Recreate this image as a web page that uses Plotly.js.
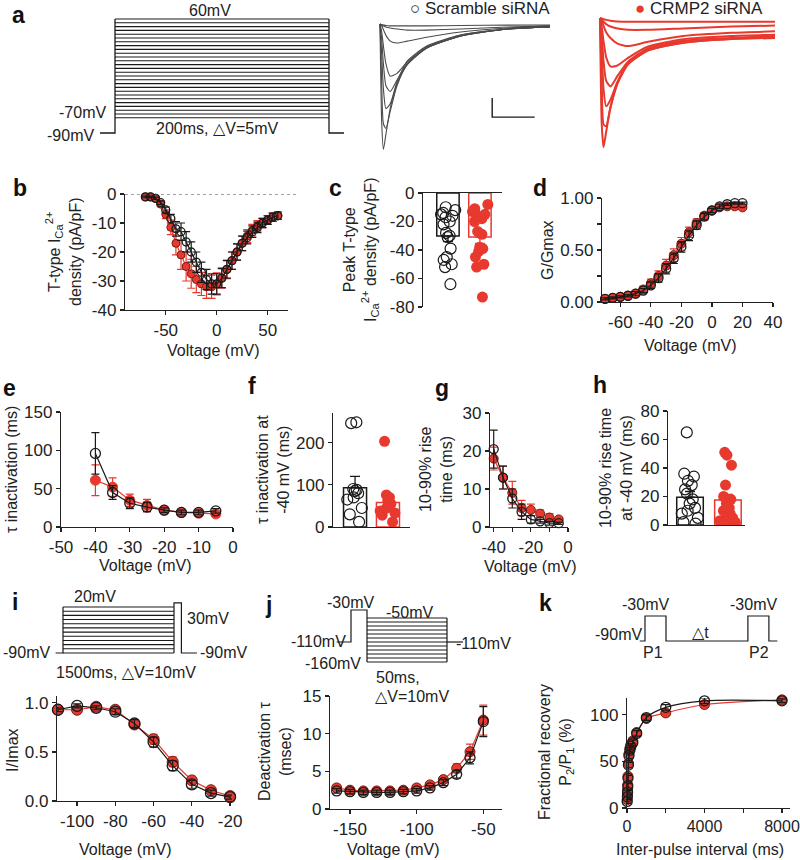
<!DOCTYPE html>
<html><head><meta charset="utf-8">
<script src="https://cdn.plot.ly/plotly-3.0.1.min.js"></script>
<style>html,body{margin:0;padding:0;background:#fff}#chart{width:800px;height:860px}</style>
</head><body><div id="chart"></div>
<script>
// ---------------- DATA ----------------
// a: voltage protocol (mV) and example current traces (pA) at sample times (ms)
const aHold = -90, aStepMs = 200, aTailMs = 14;
const aSteps = [-70,-65,-60,-55,-50,-45,-40,-35,-30,-25,-20,-15,-10,-5,0,5,10,15,20,25,30,35,40,45,50,55,60];
const traceT = [0, 2, 4, 7, 12, 20, 32, 55, 95, 150, 200];
const scrTraces = [
  [0,-520,-660,-580,-445,-305,-195,-116,-58,-26,-15],
  [0,-315,-525,-550,-460,-325,-210,-126,-63,-26,-15],
  [0,-160,-340,-445,-420,-315,-215,-126,-63,-26,-15],
  [0,-80,-210,-325,-355,-295,-210,-126,-63,-26,-15],
  [0,-42,-115,-210,-275,-260,-200,-120,-58,-26,-15],
  [0,-10,-30,-60,-90,-100,-90,-70,-42,-21,-10],
  [0,-5,-10,-16,-21,-26,-32,-32,-26,-16,-10],
  [0,-3,-5,-8,-10,-10,-10,-10,-8,-6,-5]
];
const crmpTraces = [
  [0,-560,-680,-600,-470,-340,-240,-170,-130,-110,-105],
  [0,-330,-560,-570,-470,-345,-245,-170,-130,-110,-105],
  [0,-170,-370,-465,-430,-335,-240,-165,-125,-108,-100],
  [0,-85,-225,-330,-360,-305,-230,-160,-120,-105,-95],
  [0,-45,-120,-205,-255,-250,-210,-150,-112,-95,-88],
  [0,-15,-40,-75,-105,-135,-148,-125,-95,-78,-70],
  [0,-8,-20,-32,-45,-55,-62,-62,-55,-45,-40],
  [0,-3,-6,-10,-14,-18,-20,-20,-20,-20,-20]
];
const scaleBarMs = 50, scaleBarPA = 100;

// b: I-V
const bV = [-70,-65,-60,-55,-50,-45,-40,-35,-30,-25,-20,-15,-10,-5,0,5,10,15,20,25,30,35,40,45,50,55,60];
const bScr = [-1,-1,-1.5,-3,-5.5,-8.5,-12,-13,-16.5,-20,-23.5,-27,-29.5,-31,-31,-29,-26,-23,-20,-17,-15,-13,-11.5,-10,-9,-8,-7.5];
const bScrErr = [0.3,0.3,0.4,0.6,1,1.5,2.5,3,3.5,3.5,3.5,3.5,3.5,3.5,3.5,3.3,3,3,2.8,2.5,2.2,2,1.8,1.6,1.5,1.4,1.3];
const bRed = [-1,-1,-1.5,-3.5,-7,-11.5,-17,-21,-25,-27.5,-29.5,-31,-32,-32,-31,-29,-26,-23,-20,-17,-14.5,-12.5,-11,-10,-9,-8,-7.5];
const bRedErr = [0.3,0.3,0.5,0.8,1.5,2.5,4,5,5,5,4.5,4,4,4,3.8,3.5,3.2,3,2.8,2.5,2.2,2,1.8,1.6,1.5,1.4,1.3];

// c: peak density per cell
const cScr = [-10,-12,-14,-15,-16,-17,-20,-22,-28,-30,-31,-39,-45,-47,-50,-52,-64];
const cRed = [-8,-11,-13,-15,-16,-18,-20,-27,-29,-38,-39,-41,-45,-50,-52,-73];
const cMean = [-30.1, -30.9], cSem = [4, 4.5];

// d: activation
const dV = [-70,-65,-60,-55,-50,-45,-40,-35,-30,-25,-20,-15,-10,-5,0,5,10,15,20];
const dScr = [0.03,0.04,0.05,0.06,0.08,0.11,0.16,0.23,0.32,0.42,0.53,0.64,0.74,0.82,0.88,0.92,0.94,0.95,0.95];
const dScrErr = [0.01,0.01,0.01,0.01,0.02,0.02,0.03,0.04,0.05,0.05,0.05,0.05,0.04,0.03,0.02,0.02,0.01,0.01,0.01];
const dRed = [0.03,0.04,0.05,0.06,0.08,0.12,0.18,0.25,0.35,0.45,0.56,0.67,0.76,0.83,0.88,0.91,0.92,0.92,0.91];
const dRedErr = [0.01,0.01,0.01,0.01,0.02,0.03,0.04,0.05,0.06,0.06,0.06,0.05,0.04,0.03,0.02,0.02,0.01,0.01,0.01];

// e: tau inactivation
const eV = [-40,-35,-30,-25,-20,-15,-10,-5];
const eScr = [96,45,31,26,22,19,19,21];
const eScrErr = [27,9,7,6,3,3,3,3];
const eRed = [61,52,35,28,22,19,18,17];
const eRedErr = [20,12,8,8,4,3,3,3];

// f: tau inactivation at -40 mV
const fScr = [248,246,90,88,85,80,70,65,45,30,12];
const fRed = [203,76,70,62,55,45,38,33,28,12];
const fMean = [93, 58], fSem = [27, 16];

// g: rise time
const gV = [-40,-35,-30,-25,-20,-15,-10,-5];
const gScr = [20.5,13,7.5,4,2,1.5,1,1];
const gScrErr = [5,3,2.5,2,1,0.5,0.5,0.3];
const gRed = [18,13,9,5,4.5,3.5,2.5,2];
const gRedErr = [3,3,3,2,1.5,1,1,0.5];

// h: rise time at -40 mV
const hScr = [65,36,34,31,28,25,22,18,15,12,10,8,5,2,1];
const hRed = [51,49,42,28,20,18,15,12,10,9,8,7,5,4,3,2,1,1];
const hMean = [19.5, 17.5], hSem = [4, 4];

// i: steady-state inactivation
const iHold = -90, iCondMs = 1500, iTestMv = 30, iTestMs = 100;
const iSteps = [-90,-80,-70,-60,-50,-40,-30,-20,-10,0,10,20];
const iV = [-110,-100,-90,-80,-70,-60,-50,-40,-30,-20];
const iScr = [0.93,0.97,0.95,0.91,0.79,0.60,0.36,0.17,0.08,0.04];
const iScrErr = [0.02,0.02,0.02,0.03,0.04,0.05,0.05,0.04,0.03,0.02];
const iRed = [0.93,0.93,0.96,0.93,0.78,0.63,0.40,0.21,0.11,0.05];
const iRedErr = [0.02,0.02,0.02,0.03,0.04,0.05,0.05,0.04,0.03,0.02];

// j: deactivation
const jHold = -110, jPre = -30, jPreMs = 10, jStepMs = 50;
const jSteps = [-160,-150,-140,-130,-120,-110,-100,-90,-80,-70,-60,-50];
const jV = [-160,-150,-140,-130,-120,-110,-100,-90,-80,-70,-60,-50];
const jScr = [2.4,2.3,2.2,2.2,2.2,2.3,2.4,2.8,3.5,4.6,6.8,11.6];
const jScrErr = [0.3,0.3,0.3,0.3,0.3,0.3,0.3,0.3,0.4,0.5,0.8,2];
const jRed = [2.8,2.5,2.4,2.4,2.4,2.5,2.8,3.2,3.9,5.4,7.6,11.8];
const jRedErr = [0.3,0.3,0.3,0.3,0.3,0.3,0.3,0.3,0.4,0.6,1,2];

// k: recovery from inactivation
const kHold = -90, kPulse = -30, kPulseMs = 100, kGapMs = 390;
const kT = [10,20,30,40,50,75,100,150,200,300,500,1000,2000,4000,8000];
const kScr = [7,12,17,23,32,46,56,62,66,70,80,97,108,115,115];
const kScrErr = [2,2,2,3,3,3,3,3,3,3,3,3,3,3,2];
const kRed = [9,14,19,25,34,48,58,64,68,72,81,96,102,111,116];
const kRedErr = [3,3,3,3,3,3,3,3,3,3,3,3,3,3,2];

// ---------------- STYLE / HELPERS ----------------
const F = 'Liberation Sans, Arial, DejaVu Sans, sans-serif';
const RED = '#E8392E', REDDK = '#7a1d17', BLK = '#1a1a1a', GRY = '#4a4a4a';
const W = 800, H = 860;
const xd = (a,b) => [a/W, b/W];
const yd = (top,bot) => [1-bot/H, 1-top/H];
const lin = (v0,p0,v1,p1,a,b) => { const s=(v1-v0)/(p1-p0); return [v0+(a-p0)*s, v0+(b-p0)*s]; };
const tt = v => v.map(String);

const data = [];
function line(x,y,xa,ya,color,width,extra){
  data.push(Object.assign({type:'scatter',mode:'lines',x,y,xaxis:xa,yaxis:ya,line:{color,width},
    hoverinfo:'skip',showlegend:false,cliponaxis:false}, extra||{}));
}
function series(x,y,err,xa,ya,kind,o){
  o = o||{};
  const isRed = kind==='red';
  data.push({type:'scatter',mode:'lines+markers',x,y,xaxis:xa,yaxis:ya,cliponaxis:false,
    line:{color:isRed?RED:BLK,width:1.2,shape:o.shape||'linear',smoothing:0.8},
    marker:isRed?{symbol:'circle',size:o.size||10,color:RED,line:{color:o.flat?RED:REDDK,width:1}}
                :{symbol:'circle-open',size:o.size||10,color:BLK,line:{color:BLK,width:1.3}},
    error_y:{type:'data',array:err,visible:true,color:isRed?RED:BLK,thickness:1.2,width:o.capW||4},
    showlegend:false,hoverinfo:'skip'});
}
function barPanel(xa,ya,scr,red,mean,sem,neg){
  [0,1].forEach(k=>{
    const col = k===0?BLK:RED;
    const e = neg ? {array:[0],arrayminus:[sem[k]]} : {array:[sem[k]],arrayminus:[0]};
    data.push({type:'bar',x:[k],y:[mean[k]],xaxis:xa,yaxis:ya,width:0.7,
      marker:{color:'rgba(255,255,255,1)',line:{color:col,width:1.5}},
      error_y:Object.assign({type:'data',symmetric:false,visible:true,color:col,thickness:1.3,width:5},e),
      hoverinfo:'skip',showlegend:false});
  });
  [[scr,0,'scr'],[red,1,'red']].forEach(([vals,k,kind])=>{
    data.push({type:'box',x0:k,y:vals,xaxis:xa,yaxis:ya,boxpoints:'all',jitter:0.8,pointpos:0,width:0.7,
      line:{width:0,color:'rgba(0,0,0,0)'},fillcolor:'rgba(0,0,0,0)',whiskerwidth:0,
      marker: kind==='red'?{symbol:'circle',size:11,color:RED,line:{width:0,color:RED}}
                          :{symbol:'circle-open',size:11,color:BLK,line:{width:1.2,color:BLK}},
      hoverinfo:'skip',showlegend:false});
  });
}

// ---------- a: protocol ----------
{
  const xs=[], ys=[];
  aSteps.forEach(v=>{ xs.push(0,aStepMs,null); ys.push(v,v,null); });
  line(xs,ys,'x','y',BLK,1.1);
  const top = aSteps[aSteps.length-1];
  line([-aTailMs,0,0,null,aStepMs,aStepMs,aStepMs+aTailMs],[aHold,aHold,top,null,top,aHold,aHold],'x','y',BLK,1.3);
}
// ---------- a: traces ----------
scrTraces.forEach(tr=>line(traceT,tr,'x2','y2',GRY,1,{line:{color:GRY,width:1.1,shape:'spline',smoothing:0.6}}));
crmpTraces.forEach(tr=>line(traceT,tr,'x3','y3',RED,2,{line:{color:RED,width:2,shape:'spline',smoothing:0.6}}));
{
  const t0 = 132, i0 = -490;
  line([t0,t0,t0+scaleBarMs],[i0+scaleBarPA,i0,i0],'x2','y2',BLK,1.4);
}

// ---------- b ----------
series(bV,bRed,bRedErr,'x4','y4','red',{size:8});
series(bV,bScr,bScrErr,'x4','y4','scr',{size:8});
// ---------- c ----------
barPanel('x5','y5',cScr,cRed,cMean,cSem,true);
// ---------- d ----------
series(dV,dRed,dRedErr,'x6','y6','red',{size:9});
series(dV,dScr,dScrErr,'x6','y6','scr',{size:9});
// ---------- e ----------
series(eV,eRed,eRedErr,'x7','y7','red',{size:10,flat:true});
series(eV,eScr,eScrErr,'x7','y7','scr',{size:10});
// ---------- f ----------
barPanel('x8','y8',fScr,fRed,fMean,fSem,false);
// ---------- g ----------
series(gV,gRed,gRedErr,'x9','y9','red',{size:9});
series(gV,gScr,gScrErr,'x9','y9','scr',{size:9});
// ---------- h ----------
barPanel('x10','y10',hScr,hRed,hMean,hSem,false);

// ---------- i: protocol ----------
{
  const xs=[], ys=[];
  iSteps.forEach(v=>{ xs.push(0,iCondMs,null); ys.push(v,v,null); });
  line(xs,ys,'x11','y11',BLK,1.1);
  const top = iSteps[iSteps.length-1];
  line([-100,0,0,null,iCondMs,iCondMs,iCondMs+iTestMs,iCondMs+iTestMs,iCondMs+iTestMs+210],
       [iHold,iHold,top,null,iHold,iTestMv,iTestMv,iHold,iHold],'x11','y11',BLK,1.2);
}
series(iV,iRed,iRedErr,'x12','y12','red',{size:11});
series(iV,iScr,iScrErr,'x12','y12','scr',{size:11});

// ---------- j: protocol ----------
{
  const xs=[], ys=[];
  jSteps.forEach(v=>{ xs.push(jPreMs,jPreMs+jStepMs,null); ys.push(v,v,null); });
  line(xs,ys,'x13','y13',BLK,1.1);
  const lo = jSteps[0], hi = jSteps[jSteps.length-1], e = jPreMs+jStepMs;
  line([-9,0,0,jPreMs,jPreMs,null,e,e,null,e,e+10],
       [jHold,jHold,jPre,jPre,lo,null,lo,hi,null,jHold,jHold],'x13','y13',BLK,1.2);
}
series(jV,jRed,jRedErr,'x14','y14','red',{size:10});
series(jV,jScr,jScrErr,'x14','y14','scr',{size:10});

// ---------- k: protocol ----------
{
  const p2 = kPulseMs + kGapMs;
  line([-25,0,0,kPulseMs,kPulseMs,p2,p2,p2+kPulseMs,p2+kPulseMs,p2+kPulseMs+40],
       [kHold,kHold,kPulse,kPulse,kHold,kHold,kPulse,kPulse,kHold,kHold],'x15','y15',BLK,1.2);
}
series(kT,kRed,kRedErr,'x16','y16','red',{size:10,shape:'spline'});
series(kT,kScr,kScrErr,'x16','y16','scr',{size:10,shape:'spline'});

// ---------------- LAYOUT ----------------
function ax(domain, range, anchor, extra){
  return Object.assign({domain, range, anchor, type:'linear', showline:true, linecolor:'#222', linewidth:1.2,
    ticks:'outside', ticklen:4, tickwidth:1.2, tickcolor:'#222', ticklabeloverflow:'allow',
    tickfont:{family:F,size:17,color:'#222'}, showgrid:false, zeroline:false, fixedrange:true}, extra||{});
}
function hid(domain, range, anchor){ return {domain, range, anchor, type:'linear', visible:false, fixedrange:true}; }
const noTicks = {ticks:'', showticklabels:false};
const minorT = vals => ({tickmode:'array', tickvals:vals, ticks:'outside', ticklen:4, tickwidth:1.2, tickcolor:'#222', showgrid:false});

const layout = {
  width:W, height:H, margin:{l:0,r:0,t:0,b:0}, showlegend:false,
  paper_bgcolor:'#fff', plot_bgcolor:'rgba(0,0,0,0)', font:{family:F,color:'#222'},
  barmode:'overlay', boxmode:'overlay',
  // a
  xaxis: hid(xd(40,360), lin(0,115,200,329,40,360), 'y'),
  yaxis: hid(yd(0,150), lin(60,19,-90,133,150,0), 'x'),
  xaxis2: hid(xd(370,565), lin(0,380,200,550,370,565), 'y2'),
  yaxis2: hid(yd(0,165), lin(0,24,-100,43,165,0), 'x2'),
  xaxis3: hid(xd(590,790), lin(0,600,200,775,590,790), 'y3'),
  yaxis3: hid(yd(0,165), lin(0,18,-100,37,165,0), 'x3'),
  // b
  xaxis4: ax(xd(125,288), [-90,70], 'y4', {tickvals:[-50,0,50], ticktext:tt([-50,0,50])}),
  yaxis4: ax(yd(194,310), [-40,0], 'x4', {tickvals:[0,-10,-20,-30,-40], ticktext:tt([0,-10,-20,-30,-40])}),
  // c
  xaxis5: ax(xd(423,502), [-0.78,1.69], 'y5', Object.assign({side:'top'}, noTicks)),
  yaxis5: ax(yd(193,307), [-80,0], 'x5', {tickvals:[0,-20,-40,-60,-80], ticktext:tt([0,-20,-40,-60,-80])}),
  // d
  xaxis6: ax(xd(602,773), [-72,40], 'y6', {tickvals:[-60,-40,-20,0,20,40], ticktext:tt([-60,-40,-20,0,20,40])}),
  yaxis6: ax(yd(198,302), [0,1], 'x6', {tickvals:[0,0.5,1], ticktext:['0.00','0.50','1.00'], minor:minorT([0.25,0.75])}),
  // e
  xaxis7: ax(xd(61,233), [-50,0], 'y7', {tickvals:[-50,-40,-30,-20,-10,0], ticktext:tt([-50,-40,-30,-20,-10,0])}),
  yaxis7: ax(yd(412,527), [0,150], 'x7', {tickvals:[0,50,100,150], ticktext:tt([0,50,100,150])}),
  // f
  xaxis8: ax(xd(333,410), [-0.67,1.67], 'y8', noTicks),
  yaxis8: ax(yd(413,527), [0,270], 'x8', {tickvals:[0,100,200], ticktext:tt([0,100,200])}),
  // g
  xaxis9: ax(xd(490,568), [-42,0], 'y9', {tickvals:[-40,-20,0], ticktext:tt([-40,-20,0]), minor:minorT([-30,-10])}),
  yaxis9: ax(yd(413,527), [0,30], 'x9', {tickvals:[0,10,20,30], ticktext:tt([0,10,20,30])}),
  // h
  xaxis10: ax(xd(668,745), [-0.58,1.45], 'y10', noTicks),
  yaxis10: ax(yd(411,525), [0,80], 'x10', {tickvals:[0,20,40,60,80], ticktext:tt([0,20,40,60,80])}),
  // i
  xaxis11: hid(xd(0,270), lin(0,63,1500,174,0,270), 'y11'),
  yaxis11: hid(yd(580,685), lin(20,607,-90,653,685,580), 'x11'),
  xaxis12: ax(xd(57,232), [-110.5,-19], 'y12', {tickvals:[-100,-80,-60,-40,-20], ticktext:tt([-100,-80,-60,-40,-20])}),
  yaxis12: ax(yd(696,801), [0,1.07], 'x12', {tickvals:[0,0.5,1], ticktext:['0.0','0.5','1.0']}),
  // j
  xaxis13: hid(xd(280,520), lin(0,351,60,447,280,520), 'y13'),
  yaxis13: hid(yd(590,680), lin(-30,610,-160,662,680,590), 'x13'),
  xaxis14: ax(xd(330,502), [-165,-36], 'y14', {tickvals:[-150,-100,-50], ticktext:tt([-150,-100,-50])}),
  yaxis14: ax(yd(696,809), [0,15], 'x14', {tickvals:[0,5,10,15], ticktext:tt([0,5,10,15])}),
  // k
  xaxis15: hid(xd(560,800), lin(0,645,100,666,560,800), 'y15'),
  yaxis15: hid(yd(590,665), lin(-30,616,-90,641,665,590), 'x15'),
  xaxis16: ax(xd(627,790), [0,8413], 'y16', {tickvals:[0,4000,8000], ticktext:tt([0,4000,8000]), minor:minorT([2000,6000]),
    tickfont:{family:F,size:16,color:'#222'}}),
  yaxis16: ax(yd(698,808), [0,118], 'x16', {tickvals:[0,50,100], ticktext:tt([0,50,100])}),
  shapes: [
    {type:'line', xref:'paper', yref:'y4', x0:125/W, x1:297/W, y0:0, y1:0, line:{color:'#444', width:1, dash:'dot'}}
  ],
  annotations: []
};

const A = layout.annotations;
function ann(x,y,text,o){
  A.push(Object.assign({xref:'paper',yref:'paper',x:x/W,y:1-y/H,text,showarrow:false,
    font:{family:F,size:16,color:'#222'},xanchor:'center',yanchor:'middle'}, o||{}));
}
function yt(x,y,text){ ann(x,y,text,{textangle:-90}); }
function letter(x,y,t){ ann(x,y,'<b>'+t+'</b>',{font:{family:F,size:23,color:'#111'}}); }

// panel letters
letter(18,15,'a'); letter(20,188,'b'); letter(335,188,'c'); letter(540,188,'d');
letter(9,388,'e'); letter(252,386,'f'); letter(442,388,'g'); letter(600,385,'h');
letter(15,602,'i'); letter(268,605,'j'); letter(545,603,'k');

// a protocol labels
ann(210,10,'60mV'); ann(82,113,'-70mV'); ann(70,135,'-90mV'); ann(217,128,'200ms, △V=5mV');
// legend
ann(480,9,'○ Scramble siRNA',{font:{family:F,size:17,color:'#222'}});
ann(699,9,'<span style="color:'+RED+'">●</span> CRMP2 siRNA',{font:{family:F,size:17,color:'#222'}});

// b
yt(63,252,'T-type I<sub>Ca</sub><sup>2+</sup><br>density (pA/pF)');
ann(213,350,'Voltage (mV)');
// c
yt(361,250,'Peak T-type<br>I<sub>Ca</sub><sup>2+</sup> density (pA/pF)');
// d
yt(547,250,'G/Gmax');
ann(690,345,'Voltage (mV)');
// e
yt(11,470,'τ inactivation (ms)');
ann(145,565,'Voltage (mV)');
// f
yt(273,470,'τ inactivation at<br>-40 mV (ms)');
// g
yt(436,470,'10-90% rise<br>time (ms)');
ann(530,566,'Voltage (mV)');
// h
yt(616,468,'10-90% rise time<br>at -40 mV (ms)');
// i
ann(95,596,'20mV'); ann(208,618,'30mV'); ann(26,652,'-90mV'); ann(223,652,'-90mV');
ann(126,672,'1500ms, △V=10mV');
yt(12,750,'I/Imax');
ann(125,849,'Voltage (mV)');
// j
ann(350,602,'-30mV'); ann(410,612,'-50mV'); ann(318,641,'-110mV'); ann(483,643,'-110mV');
ann(333,663,'-160mV'); ann(398,677,'50ms,'); ann(412,696,'△V=10mV');
yt(275,752,'Deactivation τ<br>(msec)');
ann(393,849,'Voltage (mV)');
// k
ann(645,604,'-30mV'); ann(753,604,'-30mV'); ann(618,634,'-90mV'); ann(700,632,'△t');
ann(653,652,'P1'); ann(759,652,'P2');
yt(556,752,'Fractional recovery<br>P<sub>2</sub>/P<sub>1</sub> (%)');
ann(700,849,'Inter-pulse interval (ms)');

Plotly.newPlot('chart', data, layout, {displayModeBar:false, staticPlot:true});
</script></body></html>
